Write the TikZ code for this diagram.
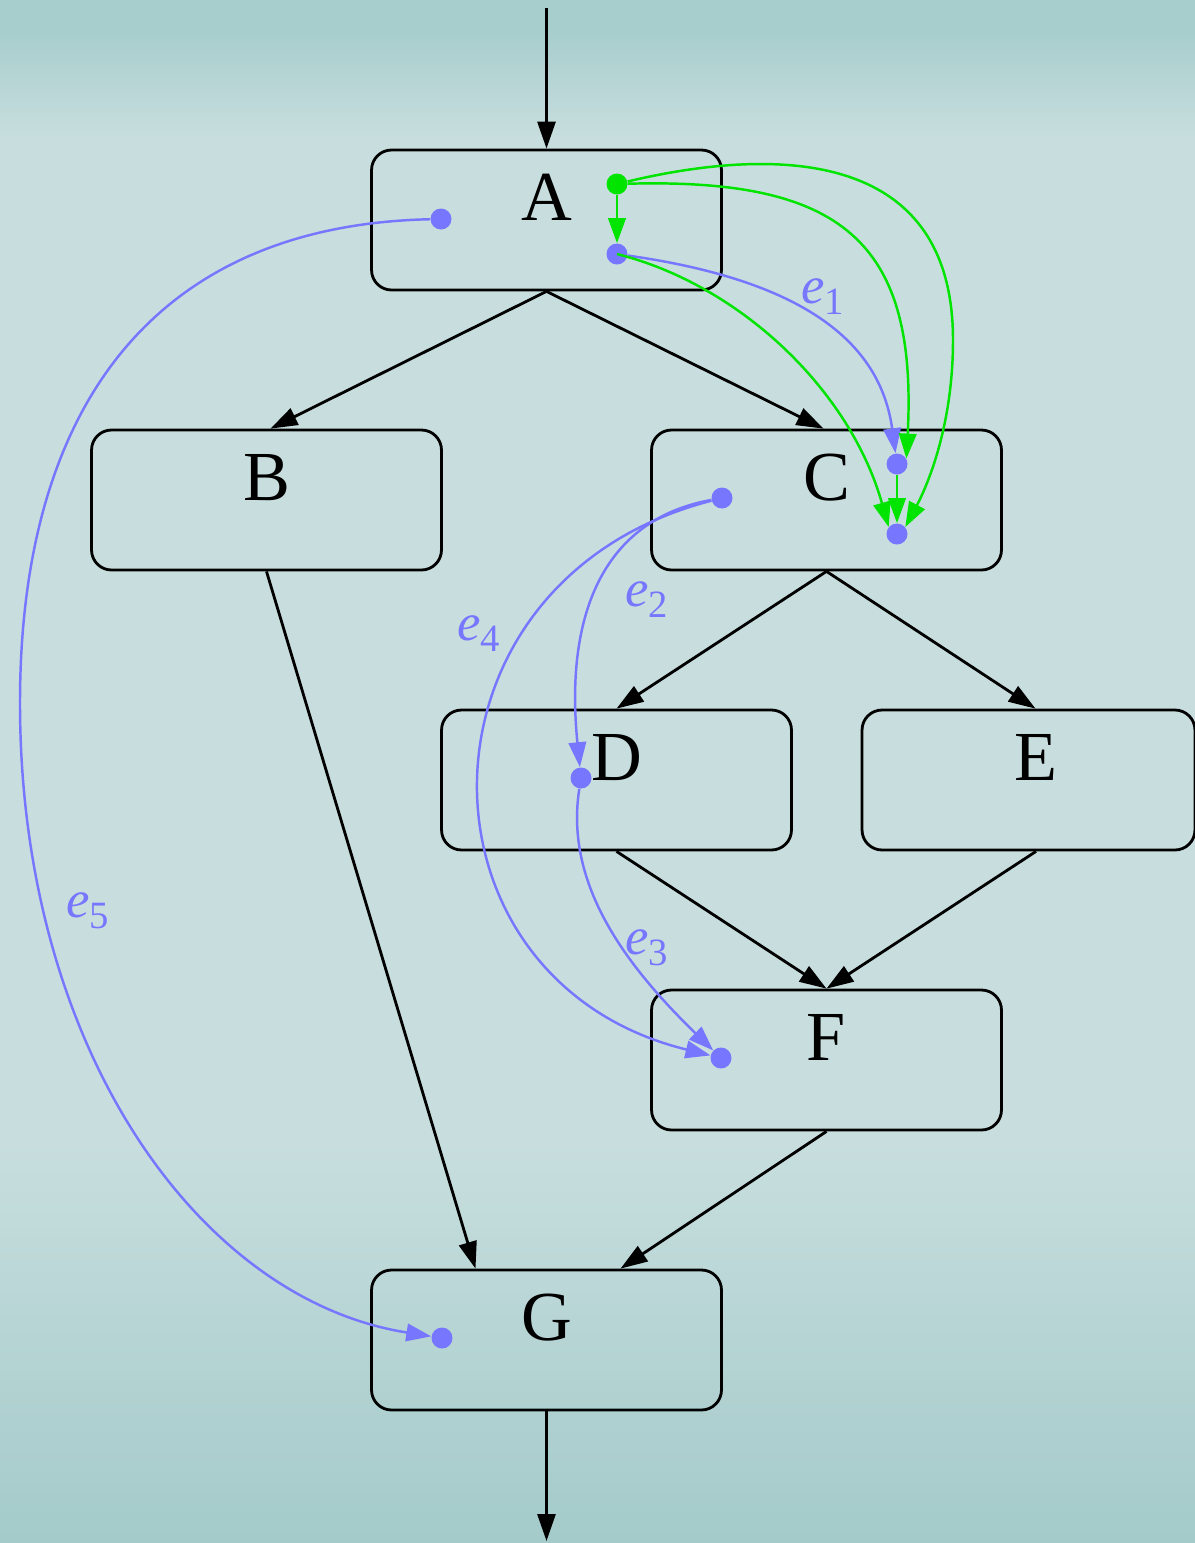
\documentclass[tikz,border=0pt]{standalone}
\usepackage{fontspec}
\setmainfont{Liberation Serif}
\usetikzlibrary{arrows.meta,calc}
\definecolor{bgtop}{RGB}{168,205,205}
\definecolor{bgmid}{RGB}{200,222,222}
\definecolor{bgbot}{RGB}{164,202,202}
\definecolor{eblue}{RGB}{118,118,255}
\definecolor{egreen}{RGB}{0,228,0}
\pgfdeclareverticalshading{bgshade}{100bp}{color(0bp)=(bgbot); color(25bp)=(bgbot); color(38bp)=(bgmid); color(70.5bp)=(bgmid); color(74bp)=(bgtop); color(100bp)=(bgtop)}
\newcommand\esub[1]{\textit{e}\raisebox{-6.5pt}{\fontsize{22}{26}\selectfont #1}}
\begin{document}
\begin{tikzpicture}[x=0.02cm,y=-0.02cm,
  box/.style={draw=black, line width=1.6pt, rounded corners=0.4cm,
    minimum width=7cm, minimum height=2.8cm, inner sep=0pt},
  boxlbl/.style={anchor=base, inner sep=0pt, font=\fontsize{40}{48}\selectfont},
  dot/.style={circle, fill=eblue, inner sep=0pt, minimum size=0.42cm},
  gdot/.style={circle, fill=egreen, inner sep=0pt, minimum size=0.42cm},
  blk/.style={draw=black, line width=1.6pt, -{Triangle[length=0.54cm,width=0.36cm]}},
  bl/.style={draw=eblue, color=eblue, line width=1.4pt, -{Triangle[length=0.5cm,width=0.35cm]}},
  gr/.style={draw=egreen, color=egreen, line width=1.4pt, -{Triangle[length=0.5cm,width=0.35cm]}},
  elbl/.style={anchor=base west, inner sep=0pt, text=eblue, font=\fontsize{30}{36}\selectfont}]
\useasboundingbox (0,0) rectangle (1195,1543);
\clip (0,0) rectangle (1195,1543);
\fill[shading=bgshade] (0,0) rectangle (1195,1543);

% boxes
\node[box] (A) at (546.5,220) {};
\node[box] (B) at (266.5,500) {};
\node[box] (C) at (826.5,500) {};
\node[box] (D) at (616.5,780) {};
\node[box, minimum width=6.66cm] (E) at (1028.5,780) {};
\node[box] (F) at (826.5,1060) {};
\node[box] (G) at (546.5,1340) {};
\node[boxlbl] (tA) at (A.center) {A};
\node[boxlbl] (tB) at (B.center) {B};
\node[boxlbl] (tC) at (C.center) {C};
\node[boxlbl] (tD) at (D.center) {D};
\node[boxlbl] (tE) at ($(E.center)+(7.5,0)$) {E};
\node[boxlbl] (tF) at (F.center) {F};
\node[boxlbl] (tG) at (G.center) {G};

% dots
\node[dot] (a1) at (441,219) {};
\node[gdot] (g0) at (617,184) {};
\node[dot] (a2) at (617,254) {};
\node[dot] (c0) at (722,498) {};
\node[dot] (c1) at (897,464) {};
\node[dot] (c2) at (897,534) {};
\node[dot] (d0) at (581,778) {};
\node[dot] (f0) at (721,1058) {};
\node[dot] (g1) at (442,1338) {};

% black edges
\coordinate (top) at (546.5,8);
\coordinate (bot) at (546.5,1541);
\draw[blk] (top) -- (A.north);
\draw[blk] (A.south) -- ($(B.north)+(4,0)$);
\draw[blk] (A.south) -- ($(C.north)+(-3,0)$);
\draw[blk] (B.south) -- ($(G.north)+(-71,0)$);
\draw[blk] (C.south) -- (D.north);
\draw[blk] (C.south) -- ($(E.north)+(7,0)$);
\draw[blk] (D.south) -- (F.north);
\draw[blk] ($(E.south)+(7.5,0)$) -- (F.north);
\draw[blk] (F.south) -- ($(G.north)+(74,0)$);
\draw[blk] (G.south) -- (bot);

% blue edges
\draw[bl] (a1) .. controls (160,225) and (20,400) .. (20,703)
               .. controls (20,1050) and (200,1300) .. (g1);
\draw[bl] (a2) .. controls (800,280) and (880,340) .. (c1);
\draw[bl] (c0) .. controls (600,520) and (565,620) .. (d0);
\draw[bl] (c0) .. controls (403,580) and (403,980) .. (f0);
\draw[bl] (d0) .. controls (565,880) and (620,960) .. (f0);

% green edges
\draw[gr] (g0) -- (a2);
\draw[gr] (g0) .. controls (840,178) and (918,240) .. (c1.30);
\draw[gr] (g0) .. controls (760,150) and (953,140) .. (953,340)
               .. controls (953,430) and (925,490) .. (c2.40);
\draw[gr] (a2.center) .. controls (740,285) and (850,390) .. (c2.140);
\draw[gr] (c1) -- (c2);

% labels
\node[elbl] (l1) at (801,303) {\esub{1}};
\node[elbl] (l2) at (625,606) {\esub{2}};
\node[elbl] (l3) at (625,954) {\esub{3}};
\node[elbl] (l4) at (457,640) {\esub{4}};
\node[elbl] (l5) at (66,917) {\esub{5}};
\end{tikzpicture}
\end{document}
